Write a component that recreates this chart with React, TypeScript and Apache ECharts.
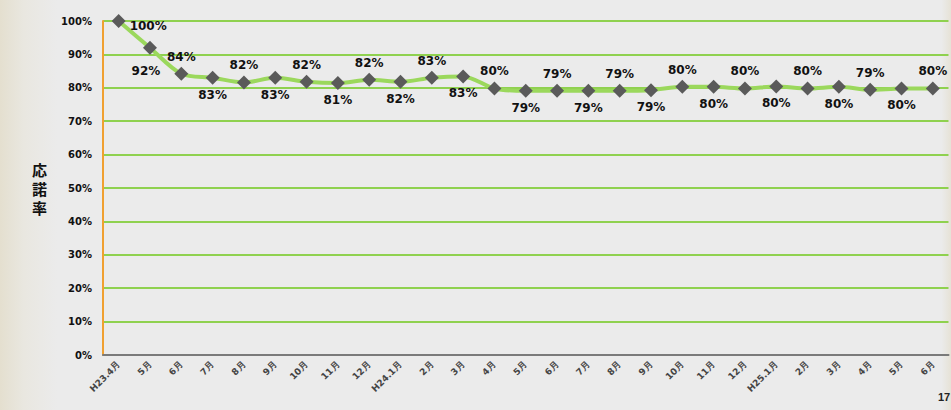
import React, { useEffect, useRef } from "react";
import * as echarts from "echarts";

const categories = [
  "H23.4月", "5月", "6月", "7月", "8月", "9月", "10月", "11月", "12月",
  "H24.1月", "2月", "3月", "4月", "5月", "6月", "7月", "8月", "9月", "10月", "11月", "12月",
  "H25.1月", "2月", "3月", "4月", "5月", "6月",
];
const rates = [
  100, 92, 84.2, 83, 81.6, 83, 81.8, 81.4, 82.4, 81.8, 83, 83.4, 79.8, 79.1, 79.1, 79.1, 79.1,
  79.3, 80.3, 80.3, 79.8, 80.4, 79.8, 80.3, 79.4, 79.8, 79.8,
];
const yTicks = [0, 10, 20, 30, 40, 50, 60, 70, 80, 90, 100];

export default function App() {
  const ref = useRef<HTMLDivElement>(null);
  useEffect(() => {
    document.body.style.margin = "0";
    const chart = echarts.init(ref.current!, null, { renderer: "svg" });
    const data = rates.map((v, i) => {
      let label: any = { position: i % 2 === 0 ? "top" : "bottom" };
      if (i === 0) label = { position: "right", offset: [0, 5] };
      if (i === 1) label = { position: "bottom", offset: [-4, 6] };
      return { value: v, label };
    });
    chart.setOption({
      animation: false,
      backgroundColor: "#ebebeb",
      graphic: [
        {
          type: "rect",
          shape: { x: 0, y: 0, width: 951, height: 410 },
          style: {
            fill: new echarts.graphic.LinearGradient(0, 0, 1, 0, [
              { offset: 0, color: "#e4dfcf" },
              { offset: 0.025, color: "#e9e7e0" },
              { offset: 0.06, color: "#ebebeb" },
              { offset: 0.99, color: "#ebebeb" },
              { offset: 1, color: "#e6e2d6" },
            ]),
          },
          z: -10,
          silent: true,
        },
        {
          type: "text",
          left: 938,
          top: 391,
          style: { text: "17", fill: "#222", font: "bold 11px sans-serif" },
        },
      ],
      grid: { left: 103, right: 2.5, top: 21, bottom: 55, containLabel: false },
      xAxis: {
        type: "category",
        data: categories,
        boundaryGap: true,
        axisLine: { lineStyle: { color: "#7a7a7a", width: 2 } },
        axisTick: { show: false },
        axisLabel: {
          rotate: 45,
          interval: 0,
          color: "#444",
          fontSize: 9,
          fontWeight: "bold",
          fontFamily: "DejaVu Sans",
          margin: 8,
        },
      },
      yAxis: {
        type: "value",
        min: 0,
        max: 100,
        interval: 10,
        name: "応\n諾\n率",
        nameLocation: "middle",
        nameRotate: 0,
        nameGap: 56,
        nameTextStyle: {
          fontSize: 15,
          lineHeight: 19,
          fontWeight: "bold",
          color: "#111",
          fontFamily: "Noto Sans CJK JP",
          padding: [0, 0, 16, 0],
        },
        axisLine: { show: true, lineStyle: { color: "#f0a030", width: 2 } },
        axisTick: { show: false },
        splitLine: { lineStyle: { color: "#8fd14f", width: 2 } },
        axisLabel: {
          formatter: (v: number) => (yTicks.includes(v) ? v + "%" : ""),
          color: "#111",
          fontSize: 10,
          fontWeight: "bold",
          fontFamily: "DejaVu Sans",
          margin: 11,
        },
      },
      series: [
        {
          type: "line",
          data,
          smooth: 0.3,
          symbol: "diamond",
          symbolSize: 14,
          itemStyle: { color: "#5a5a5a" },
          lineStyle: { color: "#9bd85c", width: 4 },
          label: {
            show: true,
            formatter: (p: any) => Math.round(p.value) + "%",
            color: "#111",
            fontSize: 12,
            fontWeight: "bold",
            fontFamily: "DejaVu Sans",
            distance: 4,
          },
          z: 3,
        },
      ],
    });
    return () => chart.dispose();
  }, []);
  return <div ref={ref} style={{ width: 951, height: 410 }} />;
}
